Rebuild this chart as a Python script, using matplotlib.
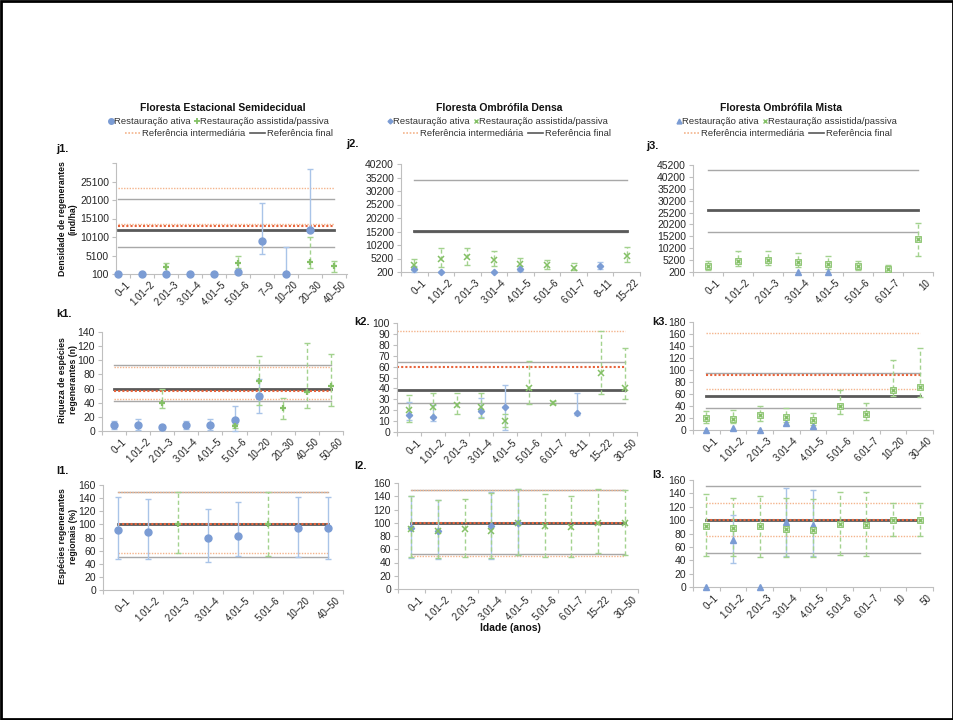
import numpy as np
import matplotlib
matplotlib.use('Agg')
import matplotlib.pyplot as plt
from matplotlib.lines import Line2D
from matplotlib.patches import Rectangle
from matplotlib.transforms import ScaledTranslation

plt.rcParams['font.family'] = ['Liberation Sans', 'DejaVu Sans']
nan = np.nan

# ---------------- DATA ----------------
# Row j: Densidade de regenerantes (ind/ha)
j1_cats = ['0–1', '1.01–2', '2.01–3', '3.01–4', '4.01–5', '5.01–6', '7–9', '10–20', '20–30', '40–50']
j1_ativa = [100, 150, 100, 100, 150, 700, 9100, 100, 12100, nan]
j1_ativa_hi = [nan, nan, nan, nan, nan, nan, 19300, 7300, 28600, nan]
j1_ativa_lo = [nan, nan, nan, nan, nan, nan, 5400, nan, nan, nan]
j1_assist = [nan, nan, 1900, nan, nan, 3150, nan, nan, 3400, 2150]
j1_assist_hi = [nan, nan, 3150, nan, nan, 4950, nan, nan, 10000, 3600]
j1_assist_lo = [nan, nan, 750, nan, nan, 1600, nan, nan, 1800, 750]
j1_ref_final = [12100, 20400, 7300]
j1_ref_inter = [13000, 23300, 13700]

j2_cats = ['0–1', '1.01–2', '2.01–3', '3.01–4', '4.01–5', '5.01–6', '6.01–7', '8–11', '15–22']
j2_ativa = [1200, 200, nan, 200, 1400, nan, nan, 2300, nan]
j2_ativa_hi = [2400, nan, nan, nan, 2400, nan, nan, 3900, nan]
j2_ativa_lo = [200, nan, nan, nan, 600, nan, nan, 1400, nan]
j2_assist = [2700, 5150, 5750, 4800, 3300, 2900, 1800, nan, 6000]
j2_assist_hi = [4900, 9100, 9100, 8000, 5400, 4800, 3500, nan, 9400]
j2_assist_lo = [800, 2100, 2900, 2300, 1400, 1400, 800, nan, 3800]
j2_ref_final = [15500, 34100, 14900]
j2_ref_inter = [nan, nan, nan]

j3_cats = ['0–1', '1.01–2', '2.01–3', '3.01–4', '4.01–5', '5.01–6', '6.01–7', '10']
j3_ativa = [nan, nan, nan, 200, 200, nan, nan, nan]
j3_ativa_hi = [nan, nan, nan, nan, nan, nan, nan, nan]
j3_ativa_lo = [nan, nan, nan, nan, nan, nan, nan, nan]
j3_assist = [2600, 4800, 5400, 4400, 3400, 2600, 1600, 14200]
j3_assist_hi = [4700, 8900, 8900, 8300, 6800, 4700, 3300, 21000]
j3_assist_lo = [900, 2700, 3300, 2300, 1600, 900, 600, 7000]
j3_ref_final = [26200, 43200, 17000]
j3_ref_inter = [nan, nan, nan]

# Row k: Riqueza de espécies regenerantes (n)
k1_cats = ['0–1', '1.01–2', '2.01–3', '3.01–4', '4.01–5', '5.01–6', '10–20', '20–30', '40–50', '50–60']
k1_ativa = [8.5, 9, 5, 8.5, 9, 15.5, 49, nan, nan, nan]
k1_ativa_hi = [14, 16.5, 8.5, 14, 16.5, 35, 73, nan, nan, nan]
k1_ativa_lo = [3, 1.5, 1.5, 3, 1.5, 0, 25, nan, nan, nan]
k1_assist = [nan, nan, 40, nan, nan, 7.5, 71, 32, 54.5, 63]
k1_assist_hi = [nan, nan, 60, nan, nan, 10.5, 106, 47, 125, 109]
k1_assist_lo = [nan, nan, 33, nan, nan, 4.5, 36.5, 16.5, 32, 35.5]
k1_ref_final = [59, 93, 42]
k1_ref_inter = [57, 90, 45]

k2_cats = ['0–1', '1.01–2', '2.01–3', '3.01–4', '4.01–5', '5.01–6', '6.01–7', '8–11', '15–22', '30–50']
k2_ativa = [16, 14, nan, 19.5, 22.5, nan, nan, 17.5, nan, nan]
k2_ativa_hi = [27.5, 24.5, nan, 31.5, 43.5, nan, nan, 35.5, nan, nan]
k2_ativa_lo = [11, 10, nan, 14, 1.5, nan, nan, 15.5, nan, nan]
k2_assist = [20, 22.5, 24.5, 22.5, 10, 40, 27, nan, 54, 40]
k2_assist_hi = [34, 35.5, 36, 36, 16.5, 65.5, 28, nan, 93, 77]
k2_assist_lo = [9, 14, 16.5, 12.5, 5, 26, 26, nan, 35, 30]
k2_ref_final = [38.5, 64, 27]
k2_ref_inter = [60, 92.6, nan]

k3_cats = ['0–1', '1.01–2', '2.01–3', '3.01–4', '4.01–5', '5.01–6', '6.01–7', '10–20', '30–40']
k3_ativa = [0, 4, 0, 11, 6.5, nan, nan, nan, nan]
k3_ativa_hi = [nan] * 9
k3_ativa_lo = [nan] * 9
k3_assist = [20.5, 19, 25, 22, 16.5, 40, 26, 67, 72]
k3_assist_hi = [32, 33, 40, 36, 29, 67, 44.5, 117, 137]
k3_assist_lo = [12, 12, 15.5, 14, 8.5, 26, 16.5, 57, 55]
k3_ref_final = [57, 95, 36]
k3_ref_inter = [91, 162, 68]

# Row l: Espécies regenerantes regionais (%)
l1_cats = ['0–1', '1.01–2', '2.01–3', '3.01–4', '4.01–5', '5.01–6', '10–20', '40–50']
l1_ativa = [91.5, 89, nan, 80, 83, nan, 94, 94]
l1_ativa_hi = [141, 138, nan, 123, 134, nan, 142, 141]
l1_ativa_lo = [48, 47, nan, 43, 52, nan, 50, 47]
l1_assist = [nan, nan, 100.5, nan, nan, 100.5, nan, nan]
l1_assist_hi = [nan, nan, 149, nan, nan, 149, nan, nan]
l1_assist_lo = [nan, nan, 57, nan, nan, 52, nan, nan]
l1_ref_final = [100, 150, 50]
l1_ref_inter = [100, 150, 56]

l2_cats = ['0–1', '1.01–2', '2.01–3', '3.01–4', '4.01–5', '5.01–6', '6.01–7', '15–22', '30–50']
l2_ativa = [92, 87, nan, 95.5, 99.5, nan, nan, nan, nan]
l2_ativa_hi = [140, 134, nan, 147, 151, nan, nan, nan, nan]
l2_ativa_lo = [47, 46, nan, 45, 51, nan, nan, nan, nan]
l2_assist = [91, 87, 91, 88, 99.5, 94.5, 93, 99.5, 100]
l2_assist_hi = [140, 135, 136, 145, 151, 143, 141, 151, 150]
l2_assist_lo = [48, 47, 48, 47, 52, 49, 48, 54, 52]
l2_ref_final = [100, 150, 53]
l2_ref_inter = [100, 150, 50]

l3_cats = ['0–1', '1.01–2', '2.01–3', '3.01–4', '4.01–5', '5.01–6', '6.01–7', '10', '50']
l3_ativa = [0, 70.5, 0, 96.5, 93, nan, nan, nan, nan]
l3_ativa_hi = [nan, 107, nan, 147.5, 145, nan, nan, nan, nan]
l3_ativa_lo = [nan, 36, nan, 46, 46, nan, nan, nan, nan]
l3_assist = [90.5, 88, 90.5, 87, 85.5, 94.5, 93, 100.5, 100.5]
l3_assist_hi = [138.5, 133.5, 136.5, 132.5, 131, 142.5, 141.5, 125, 125]
l3_assist_lo = [46.5, 46.5, 45.5, 44.5, 45.5, 48, 46.5, 76.5, 76.5]
l3_ref_final = [100, 151, 51]
l3_ref_inter = [100, 126, 76.5]

col_titles = ['Floresta Estacional Semidecidual', 'Floresta Ombrófila Densa', 'Floresta Ombrófila Mista']
row_ylabels = ['Densidade de regenerantes\n(ind/ha)', 'Riqueza de espécies\nregenerantes (n)',
               'Espécies regenerantes\nregionais (%)']

# ---------------- STYLE ----------------
W, H = 954, 720
fig = plt.figure(figsize=(W / 100, H / 100), dpi=100)
fig.patch.set_facecolor('white')

BLUE_M = '#7b9cd4'
BLUE_E = '#a9c4e8'
GREEN_M = '#84c066'
GREEN_E = '#a3d28e'
GRAY_D = '#595959'
GRAY_L = '#a8a8a8'
OR_D = '#e8643c'
OR_L = '#f4b48c'
AX_C = '#bfbfbf'
TXT = '#262626'


def px_axes(l, r, t, b):
    return fig.add_axes([l / W, 1 - b / H, (r - l) / W, (b - t) / H])


def draw_err(ax, vals, hi, lo, color, ls, z):
    for i, (v, h, l) in enumerate(zip(vals, hi, lo)):
        if np.isnan(v):
            continue
        up = 0 if np.isnan(h) else h - v
        dn = 0 if np.isnan(l) else v - l
        if up == 0 and dn == 0:
            continue
        c = ax.errorbar([i], [v], yerr=[[dn], [up]], fmt='none', ecolor=color,
                        elinewidth=1, capsize=2, capthick=1, zorder=z)
        for lc in c.lines[2]:
            lc.set_linestyle(ls)
            lc.set_clip_on(False)
        for cl in c.lines[1]:
            cl.set_clip_on(False)


def panel(ax, cats, act, act_hi, act_lo, ast, ast_hi, ast_lo, final, inter,
          yticks, ylim, col, xlim=None, line_start=0, ytl=None):
    n = len(cats)
    x = np.arange(n)
    xs = [line_start, n - 1]
    for v in final[1:]:
        if not np.isnan(v):
            ax.plot(xs, [v, v], color=GRAY_L, lw=1, zorder=1)
    for v in inter[1:]:
        if not np.isnan(v):
            ax.plot(xs, [v, v], color=OR_L, lw=1, ls=(0, (1, 1)), zorder=1.5)
    if not np.isnan(final[0]):
        ax.plot(xs, [final[0]] * 2, color=GRAY_D, lw=2, zorder=2)
    if not np.isnan(inter[0]):
        ax.plot(xs, [inter[0]] * 2, color=OR_D, lw=1.5, ls=(0, (1, 1)), zorder=2.5)

    draw_err(ax, act, act_hi, act_lo, BLUE_E, '-', 3)
    draw_err(ax, ast, ast_hi, ast_lo, GREEN_E, (0, (3, 2)), 3.5)

    act = np.array(act, float)
    ast = np.array(ast, float)
    if col == 0:
        ax.plot(x, act, 'o', ms=5, color=BLUE_M, ls='none', zorder=5, clip_on=False)
        ax.plot(x, ast, '+', ms=5, mew=1.6, color=GREEN_M, ls='none', zorder=6, clip_on=False)
    elif col == 1:
        ax.plot(x, act, 'D', ms=3.2, color=BLUE_M, ls='none', zorder=5, clip_on=False)
        ax.plot(x, ast, 'x', ms=4, mew=1.1, color=GREEN_M, ls='none', zorder=6, clip_on=False)
    else:
        ax.plot(x, act, '^', ms=4, color=BLUE_M, ls='none', zorder=5, clip_on=False)
        ax.plot(x, ast, 's', ms=4.5, mfc='#d8ecd0', mec=GREEN_M, mew=0.6, ls='none', zorder=6, clip_on=False)
        ax.plot(x, ast, 'x', ms=3.5, mew=1.0, color=GREEN_M, ls='none', zorder=7, clip_on=False)

    ax.set_xlim(xlim if xlim else (-0.5, n - 0.5))
    ax.set_ylim(ylim)
    ax.set_yticks(yticks)
    if ytl is not None:
        ax.set_yticklabels(ytl)
    ax.set_xticks(x)
    ax.set_xticklabels(cats, rotation=45, ha='right', va='top', rotation_mode='anchor', fontsize=7)
    lo_b, hi_b = ax.get_xlim()
    ax.set_xticks([b for b in np.arange(-0.5, n + 0.5, 1) if lo_b - 1e-6 <= b <= hi_b + 1e-6], minor=True)
    ax.tick_params(axis='x', which='major', length=0, pad=4, labelcolor=TXT)
    ax.tick_params(axis='x', which='minor', length=3, color=AX_C, width=0.8)
    ax.tick_params(axis='y', length=3, color=AX_C, width=0.8, labelsize=7.5, labelcolor=TXT, pad=2)
    off = ScaledTranslation(7 / 100, 0, fig.dpi_scale_trans)
    for lab in ax.get_xticklabels():
        lab.set_transform(lab.get_transform() + off)
    for s in ['top', 'right']:
        ax.spines[s].set_visible(False)
    for s in ['left', 'bottom']:
        ax.spines[s].set_color(AX_C)
        ax.spines[s].set_linewidth(0.8)
    ax.patch.set_alpha(0)


# j row
ax = px_axes(116, 347, 163, 274)
panel(ax, j1_cats, j1_ativa, j1_ativa_hi, j1_ativa_lo, j1_assist, j1_assist_hi, j1_assist_lo,
      j1_ref_final, j1_ref_inter, np.arange(100, 30101, 5000), (100, 30100), 0, xlim=(-0.1, 9.55),
      ytl=[str(v) for v in range(100, 25101, 5000)] + [''])
ax = px_axes(401, 640, 164, 272)
panel(ax, j2_cats, j2_ativa, j2_ativa_hi, j2_ativa_lo, j2_assist, j2_assist_hi, j2_assist_lo,
      j2_ref_final, j2_ref_inter, np.arange(200, 40201, 5000), (200, 40200), 1)
ax = px_axes(693, 933, 165, 272)
panel(ax, j3_cats, j3_ativa, j3_ativa_hi, j3_ativa_lo, j3_assist, j3_assist_hi, j3_assist_lo,
      j3_ref_final, j3_ref_inter, np.arange(200, 45201, 5000), (200, 45200), 2)
# k row
ax = px_axes(102, 343, 332, 431)
panel(ax, k1_cats, k1_ativa, k1_ativa_hi, k1_ativa_lo, k1_assist, k1_assist_hi, k1_assist_lo,
      k1_ref_final, k1_ref_inter, np.arange(0, 141, 20), (0, 140), 0)
ax = px_axes(397, 637, 323, 432)
panel(ax, k2_cats, k2_ativa, k2_ativa_hi, k2_ativa_lo, k2_assist, k2_assist_hi, k2_assist_lo,
      k2_ref_final, k2_ref_inter, np.arange(0, 101, 10), (0, 100), 1, line_start=-0.5)
ax = px_axes(693, 933, 322, 430)
panel(ax, k3_cats, k3_ativa, k3_ativa_hi, k3_ativa_lo, k3_assist, k3_assist_hi, k3_assist_lo,
      k3_ref_final, k3_ref_inter, np.arange(0, 181, 20), (0, 180), 2)
# l row
ax = px_axes(103, 343, 485, 590)
panel(ax, l1_cats, l1_ativa, l1_ativa_hi, l1_ativa_lo, l1_assist, l1_assist_hi, l1_assist_lo,
      l1_ref_final, l1_ref_inter, np.arange(0, 161, 20), (0, 160), 0)
ax = px_axes(398, 638, 483, 589)
panel(ax, l2_cats, l2_ativa, l2_ativa_hi, l2_ativa_lo, l2_assist, l2_assist_hi, l2_assist_lo,
      l2_ref_final, l2_ref_inter, np.arange(0, 161, 20), (0, 160), 1)
ax = px_axes(693, 933, 480, 587)
panel(ax, l3_cats, l3_ativa, l3_ativa_hi, l3_ativa_lo, l3_assist, l3_assist_hi, l3_assist_lo,
      l3_ref_final, l3_ref_inter, np.arange(0, 161, 20), (0, 160), 2)

# ---------------- TEXT ----------------
def ftext(x, y, s, **kw):
    fig.text(x / W, 1 - y / H, s, **kw)


title_x = [223, 499, 781]
for cx, t in zip(title_x, col_titles):
    ftext(cx, 108, t, ha='center', va='center', fontsize=7.5, fontweight='bold', color='#111111')

act_handles = [Line2D([], [], marker='o', ms=4, color=BLUE_M, ls='none'),
               Line2D([], [], marker='D', ms=2.5, color=BLUE_M, ls='none'),
               Line2D([], [], marker='^', ms=3.5, color=BLUE_M, ls='none')]
ast_handles = [Line2D([], [], marker='+', ms=4, mew=1.3, color=GREEN_M, ls='none'),
               Line2D([], [], marker='x', ms=3, mew=1, color=GREEN_M, ls='none'),
               Line2D([], [], marker='x', ms=3, mew=1, color=GREEN_M, ls='none')]
leg1_x = [219, 498, 787]
leg2_x = [229, 507, 788]
for i in range(3):
    fig.legend([act_handles[i], ast_handles[i]], ['Restauração ativa', 'Restauração assistida/passiva'],
               loc='center', bbox_to_anchor=(leg1_x[i] / W, 1 - 122 / H), ncol=2, frameon=False,
               fontsize=6.8, handlelength=0.5, handletextpad=0.1, columnspacing=0.4, borderpad=0,
               labelcolor='#333333')
    fig.legend([Line2D([], [], color=OR_L, ls=(0, (1, 1)), lw=1.2), Line2D([], [], color=GRAY_D, lw=1.2)],
               ['Referência intermediária', 'Referência final'],
               loc='center', bbox_to_anchor=(leg2_x[i] / W, 1 - 134 / H), ncol=2, frameon=False,
               fontsize=6.8, handlelength=1.6, handletextpad=0.15, columnspacing=0.5, borderpad=0,
               labelcolor='#333333')

panel_labels = [('j1.', 56, 149), ('j2.', 346, 144), ('j3.', 646, 146),
                ('k1.', 56, 314), ('k2.', 354, 322), ('k3.', 652, 322),
                ('l1.', 56, 471), ('l2.', 354, 466), ('l3.', 652, 475)]
for s, x, y in panel_labels:
    ftext(x, y, s, ha='left', va='center', fontsize=8, fontweight='bold', color='#111111')

ylab_y = [219, 380, 536]
for s, y in zip(row_ylabels, ylab_y):
    ftext(68, y, s, ha='center', va='center', rotation=90, fontsize=6.3, fontweight='bold',
          color='#111111', linespacing=1.15, multialignment='center')

ftext(510, 628, 'Idade (anos)', ha='center', va='center', fontsize=7.5, fontweight='bold', color='#111111')

fig.add_artist(Rectangle((0.001, 0.001), 0.998, 0.998, transform=fig.transFigure, fill=False,
                         ec='black', lw=2))

fig.savefig('out.png', dpi=100)
